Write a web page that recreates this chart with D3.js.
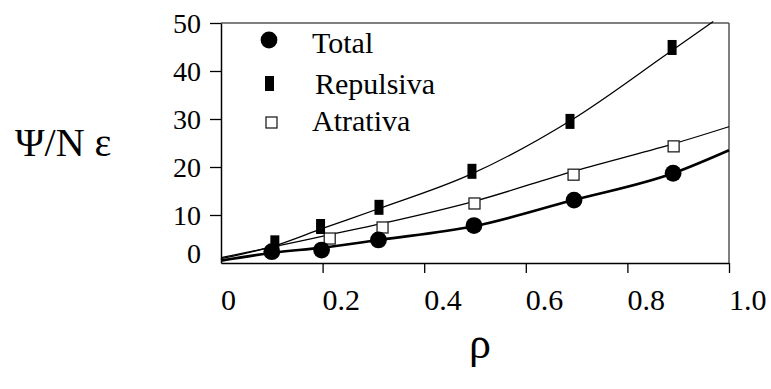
<!DOCTYPE html>
<html>
<head>
<meta charset="UTF-8">
<script src="https://cdn.jsdelivr.net/npm/d3@7/dist/d3.min.js"></script>
<style>
  * { margin: 0; padding: 0; box-sizing: border-box; }
  html, body { width: 771px; height: 389px; background: #fff; overflow: hidden; }
  svg { display: block; }
</style>
</head>
<body>
<div id="chart"></div>
<script>
// --- data ---
var xTicks = [0, 0.2, 0.4, 0.6, 0.8, 1.0];
var xTickLabels = ["0", "0.2", "0.4", "0.6", "0.8", "1.0"];
var yTicks = [0, 10, 20, 30, 40, 50];
var yTickLabels = ["0", "10", "20", "30", "40", "50"];

// measured points
var totalRho = [0.10, 0.198, 0.31, 0.498, 0.695, 0.89];
var totalVal = [2.35, 2.7, 4.8, 7.8, 13.1, 18.7];
var repRho = [0.106, 0.196, 0.311, 0.494, 0.687, 0.888];
var repVal = [4.2, 7.6, 11.6, 19.1, 29.5, 44.9];
var atrRho = [0.214, 0.318, 0.499, 0.694, 0.891];
var atrVal = [5.1, 7.4, 12.4, 18.4, 24.3];

// fitted curves
var totalFitRho = [0, 0.1, 0.2, 0.31, 0.5, 0.69, 0.89, 1.0];
var totalFitVal = [0.5, 2.1, 3.2, 4.8, 7.7, 13.0, 18.7, 23.5];
var repFitRho = [0, 0.1, 0.2, 0.31, 0.49, 0.69, 0.88, 0.969];
var repFitVal = [0.9, 3.4, 7.2, 11.3, 18.4, 29.8, 43.7, 50.3];
var atrFitRho = [0, 0.1, 0.21, 0.32, 0.5, 0.69, 0.89, 1.0];
var atrFitVal = [1.1, 3.3, 5.8, 8.3, 12.9, 19.0, 24.8, 28.4];

var legendLabels = ["Total", "Repulsiva", "Atrativa"];

// --- layout ---
var W = 771, H = 389;
var FONT = "'Liberation Serif', serif";
var x = d3.scaleLinear().domain([0, 1]).range([221, 729]);
var y = d3.scaleLinear().domain([0, 50]).range([263, 23]);

var svg = d3.select("#chart").append("svg")
  .attr("width", W).attr("height", H);

// frame: top/right lighter
svg.append("line").attr("x1", x(0)).attr("x2", x(1)).attr("y1", y(50)).attr("y2", y(50))
  .attr("stroke", "#555").attr("stroke-width", 1.5);
svg.append("line").attr("x1", x(1)).attr("x2", x(1)).attr("y1", y(50)).attr("y2", y(0))
  .attr("stroke", "#555").attr("stroke-width", 1.5);

// bottom axis
var xAxis = d3.axisBottom(x).tickValues(xTicks.slice(1)).tickSize(10).tickSizeOuter(0).tickFormat("");
var gx = svg.append("g").attr("transform", "translate(0," + y(0) + ")").call(xAxis);
gx.select(".domain").attr("stroke", "#000").attr("stroke-width", 1.5);
gx.selectAll(".tick line").attr("stroke", "#000").attr("stroke-width", 1.3);

svg.append("g").selectAll("text")
  .data(xTicks)
  .enter().append("text")
  .attr("x", function(d) { return x(d); })
  .attr("y", 310)
  .style("font-family", FONT)
  .style("font-size", "30px")
  .attr("fill", "#000")
  .text(function(d, i) { return xTickLabels[i]; });

// left axis
var yAxis = d3.axisLeft(y).tickValues(yTicks.slice(1)).tickSize(11).tickSizeOuter(0).tickFormat("");
var gy = svg.append("g").attr("transform", "translate(" + x(0) + ",0)").call(yAxis);
gy.select(".domain").attr("stroke", "#000").attr("stroke-width", 1.5);
gy.selectAll(".tick line").attr("stroke", "#000").attr("stroke-width", 1.3);

svg.append("g").selectAll("text")
  .data(yTicks)
  .enter().append("text")
  .attr("x", 201)
  .attr("y", function(d) { return y(d) + (d === 0 ? -10 : 0); })
  .attr("dy", "0.34em")
  .attr("text-anchor", "end")
  .style("font-family", FONT)
  .style("font-size", "28px")
  .attr("fill", "#000")
  .text(function(d, i) { return yTickLabels[i]; });

// axis titles
svg.append("text").attr("x", 15).attr("y", 156)
  .style("font-family", FONT)
  .style("font-size", "40px").attr("fill", "#000")
  .text("Ψ/N ε");
svg.append("text").attr("x", 480).attr("y", 358)
  .attr("text-anchor", "middle")
  .style("font-family", FONT)
  .style("font-size", "44px").attr("fill", "#000")
  .text("ρ");

// fitted lines
var line = d3.line()
  .x(function(d) { return x(d[0]); })
  .y(function(d) { return y(d[1]); })
  .curve(d3.curveMonotoneX);

function pairs(a, b) { return a.map(function(v, i) { return [v, b[i]]; }); }

svg.append("path").datum(pairs(repFitRho, repFitVal))
  .attr("fill", "none").attr("stroke", "#000").attr("stroke-width", 1.3).attr("d", line);
svg.append("path").datum(pairs(atrFitRho, atrFitVal))
  .attr("fill", "none").attr("stroke", "#000").attr("stroke-width", 1.3).attr("d", line);
svg.append("path").datum(pairs(totalFitRho, totalFitVal))
  .attr("fill", "none").attr("stroke", "#000").attr("stroke-width", 2.6).attr("d", line);

// markers
var SQ = 11, RW = 9, RH = 15, CR = 8.4;

svg.append("g").selectAll("rect")
  .data(pairs(atrRho, atrVal))
  .enter().append("rect")
  .attr("x", function(d) { return x(d[0]) - SQ / 2; })
  .attr("y", function(d) { return y(d[1]) - SQ / 2; })
  .attr("width", SQ).attr("height", SQ)
  .attr("fill", "#fff").attr("stroke", "#222").attr("stroke-width", 1.3);

svg.append("g").selectAll("rect")
  .data(pairs(repRho, repVal))
  .enter().append("rect")
  .attr("x", function(d) { return x(d[0]) - RW / 2; })
  .attr("y", function(d) { return y(d[1]) - RH / 2; })
  .attr("width", RW).attr("height", RH)
  .attr("fill", "#000");

svg.append("g").selectAll("circle")
  .data(pairs(totalRho, totalVal))
  .enter().append("circle")
  .attr("cx", function(d) { return x(d[0]); })
  .attr("cy", function(d) { return y(d[1]); })
  .attr("r", CR)
  .attr("fill", "#000");

// legend
var legend = svg.append("g");
legend.append("circle").attr("cx", 269).attr("cy", 40).attr("r", CR).attr("fill", "#000");
legend.append("rect").attr("x", 269.5 - RW / 2).attr("y", 83.5 - RH / 2)
  .attr("width", RW).attr("height", RH).attr("fill", "#000");
legend.append("rect").attr("x", 271.5 - SQ / 2).attr("y", 122.5 - SQ / 2)
  .attr("width", SQ).attr("height", SQ)
  .attr("fill", "#fff").attr("stroke", "#222").attr("stroke-width", 1.3);

var legendX = [312, 315, 312];
var legendY = [53, 94, 131];
legend.selectAll("text")
  .data(legendLabels)
  .enter().append("text")
  .attr("x", function(d, i) { return legendX[i]; })
  .attr("y", function(d, i) { return legendY[i]; })
  .style("font-family", FONT)
  .style("font-size", "30px")
  .attr("fill", "#000")
  .text(function(d) { return d; });
</script>
</body>
</html>
